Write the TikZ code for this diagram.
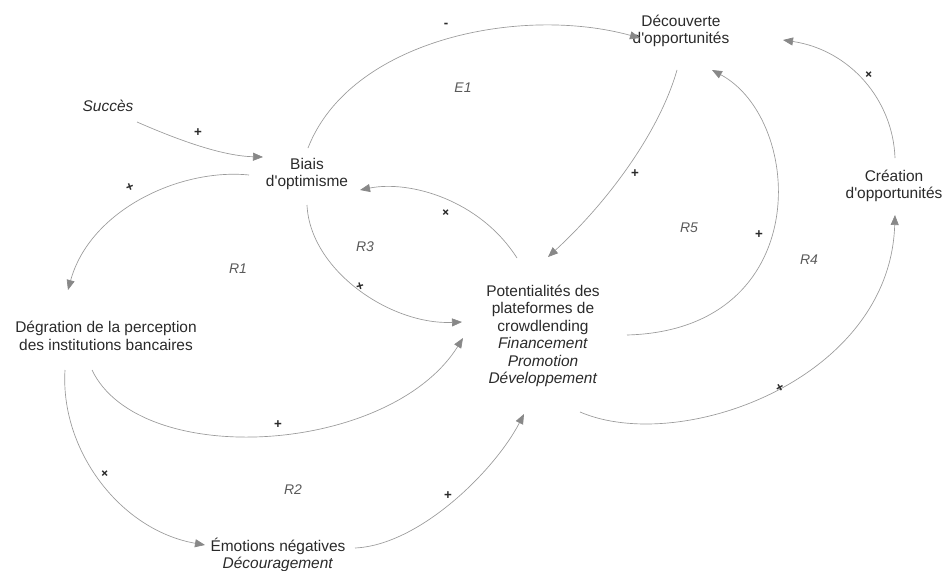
\documentclass[tikz,border=0pt]{standalone}
\usepackage{fontspec}
\setmainfont{Liberation Sans}
\usetikzlibrary{calc,arrows.meta}
\definecolor{linkgray}{HTML}{9a9a9a}
\definecolor{tipgray}{HTML}{888888}
\definecolor{textgray}{HTML}{2a2a2a}
\definecolor{loopgray}{HTML}{5a5a5a}
\tikzset{
	% ------- every something
	every node/.style={
		inner sep=0pt,
	},
	% ------- custom
	factor/.style={
		align=center,
		text=textgray,
		font=\fontsize{11.6}{13.1}\selectfont,
	},
	link/.style={
		draw=linkgray,
		line width=0.5pt,
		-{Triangle[length=7.5pt,width=6pt,color=tipgray]},
	},
	polarity/.style={
		text=textgray,
		font=\fontsize{10}{10}\selectfont\bfseries,
	},
	loop label/.style={
		text=loopgray,
		font=\fontsize{10.5}{10.5}\selectfont\itshape,
	},
}

\begin{document}
\begin{tikzpicture}[x=0.75pt, y=-0.75pt]

	\useasboundingbox (0,0) rectangle (943,571);

% factors %{{{1

	\node[factor] (dec)    at (681,31)  {Découverte\\d\textquotesingle opportunités};
	\node[factor] (succes) at (108,106) {\textit{Succès}};
	\node[factor] (biais)  at (307,174) {Biais\\d\textquotesingle optimisme};
	\node[factor] (crea)   at (894,186) {Création\\d\textquotesingle opportunités};
	\node[factor] (degr)   at (106,336) {Dégration de la perception\\des institutions bancaires};
	\node[factor] (pot)    at (543,336) {Potentialités des\\plateformes de\\crowdlending\\
		\textit{Financement}\\\textit{Promotion}\\\textit{Développement}};
	\node[factor] (emo)    at (278,555) {Émotions négatives\\\textit{Découragement}};

% links %{{{1

	\draw[link] ($(succes)+(29,16)$) .. controls (185,143) and (225,156) .. ($(biais)+(-44,-17)$);
	\draw[link] ($(biais)+(1,-26)$) .. controls (350,40) and (520,5) .. ($(dec)+(-41,7)$);
	\draw[link] ($(dec)+(-4,39)$) .. controls (660,130) and (610,200) .. ($(pot)+(5,-79)$);
	\draw[link] ($(pot)+(84,-1)$) .. controls (815,330) and (805,120) .. ($(dec)+(31,39)$);
	\draw[link] ($(crea)+(1,-28)$) .. controls (893,100) and (850,50) .. ($(dec)+(102,9)$);
	\draw[link] ($(pot)+(37,76)$) .. controls (680,455) and (890,380) .. ($(crea)+(1,29)$);
	\draw[link] ($(pot)+(-26,-78)$) .. controls (480,200) and (410,180) .. ($(biais)+(53,16)$);
	\draw[link] ($(biais)+(0,31)$) .. controls (310,270) and (390,325) .. ($(pot)+(-81,-14)$);
	\draw[link] ($(biais)+(-58,1)$) .. controls (180,168) and (90,210) .. ($(degr)+(-38,-46)$);
	\draw[link] ($(degr)+(-14,34)$) .. controls (140,470) and (390,455) .. ($(pot)+(-80,2)$);
	\draw[link] ($(degr)+(-41,34)$) .. controls (60,450) and (120,530) .. ($(emo)+(-73,-10)$);
	\draw[link] ($(emo)+(77,-7)$) .. controls (420,545) and (495,470) .. ($(pot)+(-19,78)$);

% polarities %{{{1

	\node[polarity]            (p1)  at (198,133) {+};
	\node[polarity]            (p2)  at (446,25)  {-};
	\node[polarity, rotate=20] (p3)  at (130,187) {+};
	\node[polarity]            (p4)  at (635,174) {+};
	\node[polarity]            (p5)  at (759,235) {+};
	\node[polarity, rotate=45] (p6)  at (869,75)  {+};
	\node[polarity, rotate=30] (p7)  at (780,388) {+};
	\node[polarity, rotate=45] (p8)  at (446,213) {+};
	\node[polarity, rotate=15] (p9)  at (360,287) {+};
	\node[polarity]            (p10) at (278,425) {+};
	\node[polarity, rotate=45] (p11) at (105,474) {+};
	\node[polarity]            (p12) at (448,496) {+};

% loops %{{{1

	\node[loop label] (e1) at (463,88)  {E1};
	\node[loop label] (r1) at (238,269) {R1};
	\node[loop label] (r2) at (293,490) {R2};
	\node[loop label] (r3) at (365,247) {R3};
	\node[loop label] (r4) at (809,260) {R4};
	\node[loop label] (r5) at (689,228) {R5};

% closing %{{{1

\end{tikzpicture}
\end{document}
